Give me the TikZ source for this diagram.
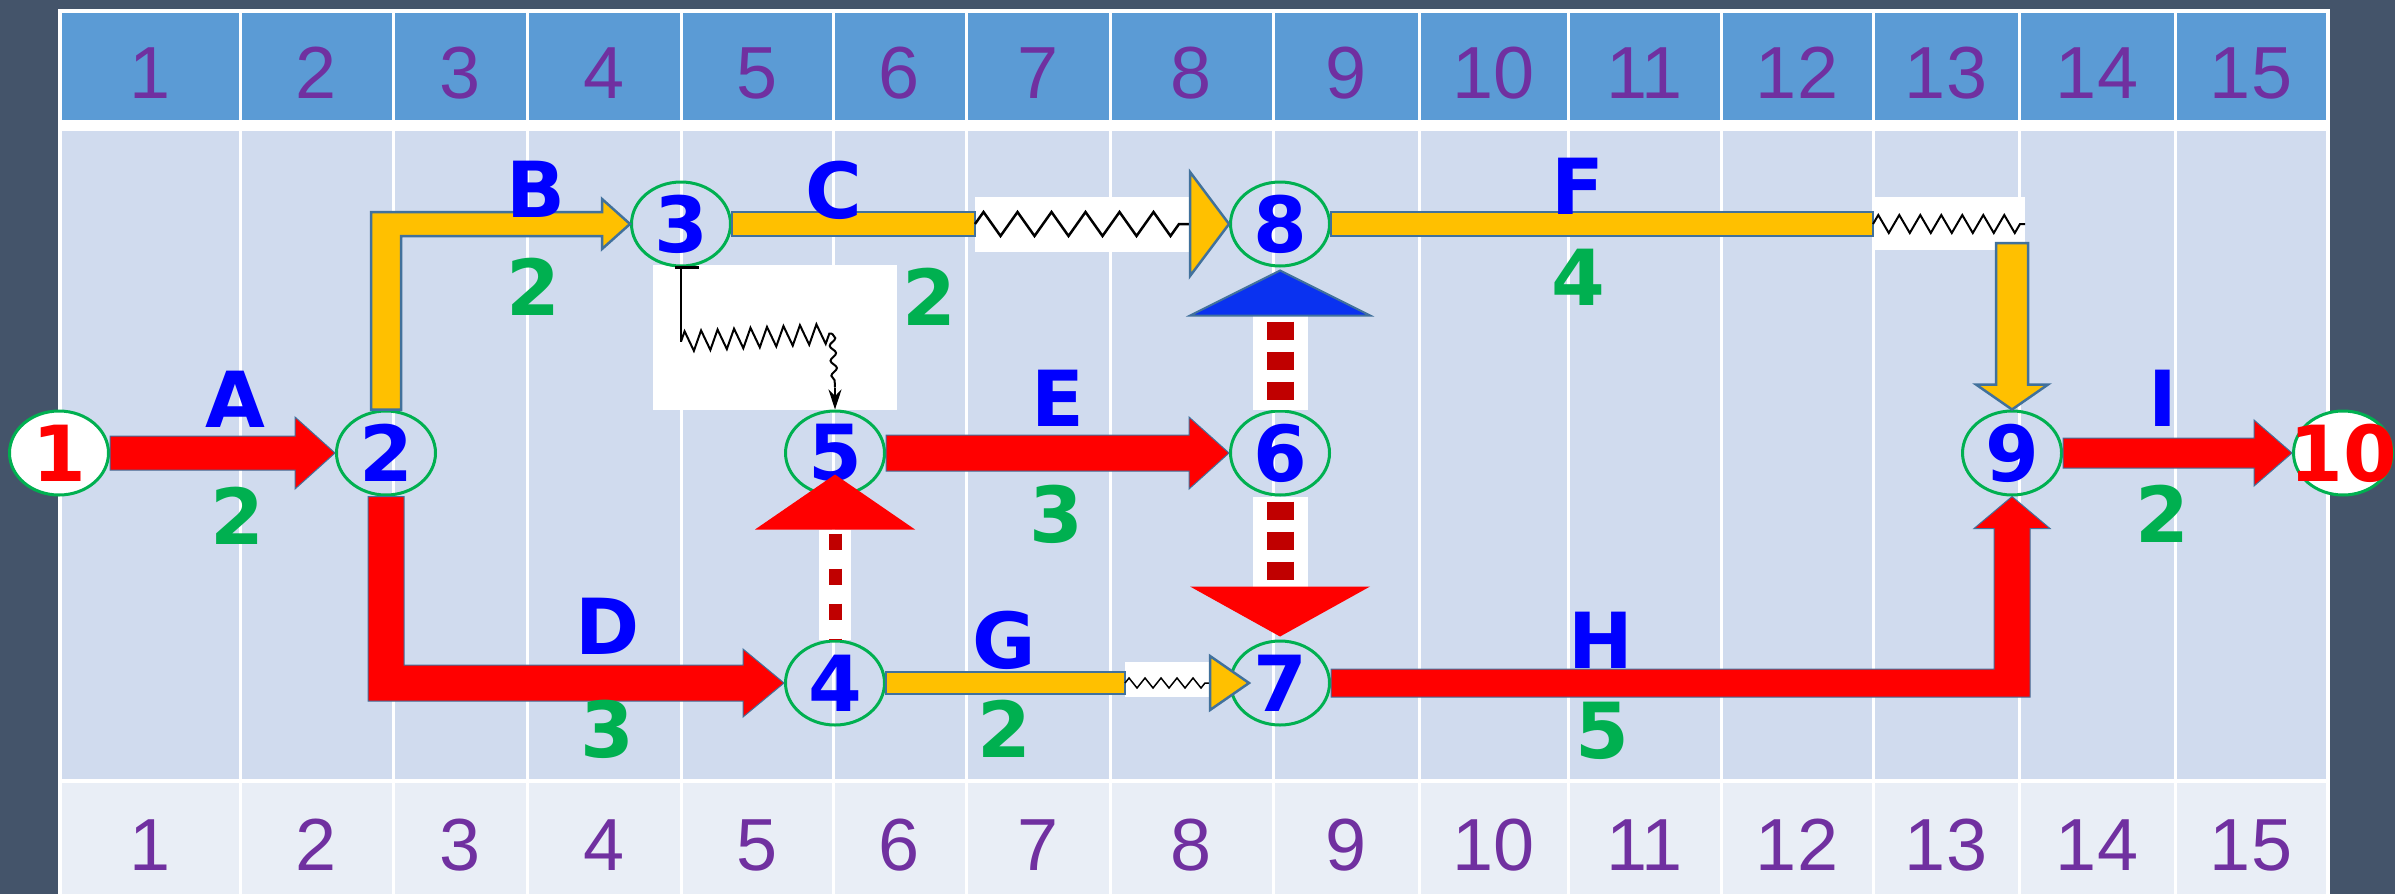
\documentclass[tikz,border=0pt]{standalone}
\usepackage{fontspec}
\setmainfont{DejaVu Sans}
\newfontfamily\axisfont{Liberation Sans}
\usetikzlibrary{calc,decorations.pathmorphing,arrows.meta,shapes.geometric}

\definecolor{bgdark}{HTML}{44546A}
\definecolor{cellhdr}{HTML}{5B9BD5}
\definecolor{cellbody}{HTML}{D0DBEE}
\definecolor{cellfoot}{HTML}{E9EEF6}
\definecolor{axnum}{HTML}{7030A0}
\definecolor{nodegreen}{HTML}{00B050}
\definecolor{lblblue}{HTML}{0000FF}
\definecolor{lblgreen}{HTML}{00B050}
\definecolor{critred}{HTML}{FF0000}
\definecolor{actyellow}{HTML}{FFC000}
\definecolor{outl}{HTML}{41719C}
\definecolor{dumred}{HTML}{C00000}
\definecolor{dumblue}{HTML}{0A32F0}

\newcommand\harrow[6]{%
  \filldraw[#6] ($(#1)+(0,-#3)$) -- ($(#2)+(-#4,-#3)$) -- ($(#2)+(-#4,-#5)$) -- (#2)
   -- ($(#2)+(-#4,#5)$) -- ($(#2)+(-#4,#3)$) -- ($(#1)+(0,#3)$) -- cycle;}

\begin{document}
\begin{tikzpicture}[x=0.1mm,y=-0.1mm,
  ev/.style={ellipse, draw=nodegreen, line width=0.3mm, minimum width=9.9mm,
    minimum height=8.4mm, inner sep=0pt, text=lblblue,
    font=\bfseries\fontsize{22}{22}\selectfont},
  endev/.style={ev, fill=white, text=critred},
  lbl/.style={text=lblblue, font=\bfseries\fontsize{22}{22}\selectfont, inner sep=0pt},
  dur/.style={text=lblgreen, font=\bfseries\fontsize{22}{22}\selectfont, inner sep=0pt},
  axlbl/.style={text=axnum, font=\axisfont\fontsize{21}{21}\selectfont, inner sep=0pt},
  redarr/.style={fill=critred, draw=outl, line width=0.1mm, line join=miter},
  yelarr/.style={fill=actyellow, draw=outl, line width=0.25mm, line join=miter},
  zzline/.style={draw=black, line width=0.2mm, decorate},
  zzbox/.style={fill=white},
]
\fill[bgdark] (0,0) rectangle (2395,894);
\useasboundingbox (0,0) rectangle (2395,894);
\fill[white] (58,9) rectangle (2330,894);

\foreach \a/\b [count=\i] in {60/240,240/393,393/527,527/681,681/833,833/966,966/1110,1110/1273,1273/1419,1419/1568,1568/1721,1721/1873,1873/2019,2019/2175,2175/2327} {
  \fill[cellhdr] (\a+1.5,13) rectangle (\b-1.5,120);
  \fill[cellbody] (\a+1.5,131) rectangle (\b-1.5,779);
  \fill[cellfoot] (\a+1.5,783) rectangle (\b-1.5,894);
  \node[axlbl] (h\i) at ({(\a+\b)/2},73) {\i};
  \node[axlbl] (f\i) at ({(\a+\b)/2},845) {\i};
}

% white boxes behind dummy zigzags
\fill[zzbox] (975,197) rectangle (1190,252);
\fill[zzbox] (1873,197) rectangle (2025,250);
\fill[zzbox] (1125,662) rectangle (1211,697);
\fill[zzbox] (653,265) rectangle (897,410);

% events
\node[endev] (n1) at (59,453) {1};
\node[ev] (n2) at (386,453) {2};
\node[ev] (n3) at (681,224) {3};
\node[ev] (n4) at (835,683) {4};
\node[ev] (n5) at (835,453) {5};
\node[ev] (n6) at (1280,453) {6};
\node[ev] (n7) at (1280,683) {7};
\node[ev] (n8) at (1280,224) {8};
\node[ev] (n9) at (2012,453) {9};
\node[endev] (n10) at (2343,453) {\makebox[0pt]{10}};

\coordinate (cz1) at (975,224);
\coordinate (cz2) at (1190,224);
\coordinate (fz1) at (1873,224);
\coordinate (fz2) at (2025,224);
\coordinate (gz1) at (1125,683);
\coordinate (gz2) at (1210,683);

% A
\harrow{n1.east}{n2.west}{17}{40}{36}{redarr}
% B
\filldraw[yelarr] ($(n2.north)+(-15,0)$) -- ($(n2.north |- n3.west)+(-15,-12)$)
  -- ($(n3.west)+(-28,-12)$) -- ($(n3.west)+(-28,-25)$) -- (n3.west)
  -- ($(n3.west)+(-28,25)$) -- ($(n3.west)+(-28,12)$)
  -- ($(n2.north |- n3.west)+(15,12)$) -- ($(n2.north)+(15,0)$) -- cycle;
% C
\filldraw[yelarr] ($(n3.east)+(0,-12)$) rectangle ($(cz1)+(0,12)$);
\draw[zzline, line width=0.25mm, decoration={zigzag, segment length=3.4mm, amplitude=1.2mm}] (cz1) -- (cz2);
\filldraw[yelarr] ($(cz2)+(0,-52)$) -- (n8.west) -- ($(cz2)+(0,52)$) -- cycle;
% D
\filldraw[redarr] ($(n2.south)+(-18,0)$) -- ($(n2.south |- n4.west)+(-18,18)$)
  -- ($(n4.west)+(-41,18)$) -- ($(n4.west)+(-41,34)$) -- (n4.west)
  -- ($(n4.west)+(-41,-34)$) -- ($(n4.west)+(-41,-18)$)
  -- ($(n2.south |- n4.west)+(18,-18)$) -- ($(n2.south)+(18,0)$) -- cycle;
% E
\harrow{n5.east}{n6.west}{18}{40}{36}{redarr}
% F
\filldraw[yelarr] ($(n8.east)+(0,-12)$) rectangle ($(fz1)+(0,12)$);
\draw[zzline, decoration={zigzag, segment length=2.1mm, amplitude=0.9mm}] (fz1) -- (fz2);
\coordinate (fd) at ($(n9.north |- fz2)+(0,19)$);
\filldraw[yelarr] ($(fd)+(-16,0)$) -- ($(n9.north)+(-16,-25)$) -- ($(n9.north)+(-36,-25)$)
  -- (n9.north) -- ($(n9.north)+(36,-25)$) -- ($(n9.north)+(16,-25)$) -- ($(fd)+(16,0)$) -- cycle;
% G
\filldraw[yelarr] ($(n4.east)+(0,-11)$) rectangle ($(gz1)+(0,11)$);
\draw[zzline, line width=0.15mm, decoration={zigzag, segment length=1.6mm, amplitude=0.5mm}] (gz1) -- (gz2);
\filldraw[yelarr] ($(gz2)+(0,-27)$) -- ($(n7.west)+(20,0)$) -- ($(gz2)+(0,27)$) -- cycle;
% H
\filldraw[redarr] ($(n7.east)+(0,-14)$) -- ($(n9.south |- n7.east)+(-18,-14)$)
  -- ($(n9.south)+(-18,32)$) -- ($(n9.south)+(-38,32)$) -- (n9.south)
  -- ($(n9.south)+(38,32)$) -- ($(n9.south)+(18,32)$)
  -- ($(n9.south |- n7.east)+(18,14)$) -- ($(n7.east)+(0,14)$) -- cycle;
% I
\harrow{n9.east}{n10.west}{15}{38}{33}{redarr}

% dummy 3 -> 5
\coordinate (z35a) at ($(n3.south)+(0,74)$);
\coordinate (z35b) at ($(n5.north)+(-3,-76)$);
\coordinate (z35c) at ($(n5.north)+(0,-22)$);
\draw[line width=0.35mm] ($(n3.south)+(-6,0)$) -- ($(n3.south)+(18,0)$);
\draw[line width=0.2mm] (n3.south) -- (z35a);
\draw[zzline, decoration={zigzag, segment length=1.65mm, amplitude=1mm}] (z35a) -- (z35b);
\draw[zzline, decoration={snake, segment length=1.5mm, amplitude=0.3mm}] (z35b) -- (z35c);
\draw[line width=0.2mm, -{Stealth[length=2mm,width=1.3mm]}] (z35c) -- (n5.north);

% dummy 4 -> 5
\coordinate (b45) at ($(n5.south)+(0,33)$);
\draw[white, line width=3.2mm] (n4.north) -- (b45);
\draw[dumred, line width=1.3mm, dash pattern=on 1.6mm off 1.9mm] ($(b45)+(0,4)$) -- (n4.north);
\fill[critred] ($(b45)+(-80,0)$) -- ($(n5.south)+(0,-22)$) -- ($(b45)+(80,0)$) -- cycle;

% dummy 6 -> 8
\coordinate (b68) at ($(n8.south)+(0,48)$);
\draw[white, line width=5.5mm] (n6.north) -- (b68);
\draw[dumred, line width=2.7mm, dash pattern=on 1.8mm off 1.2mm] ($(b68)+(0,6)$) -- (n6.north);
\filldraw[fill=dumblue, draw=outl, line width=0.2mm] ($(b68)+(-90,0)$) -- ($(n8.south)+(0,3)$) -- ($(b68)+(90,0)$) -- cycle;

% dummy 6 -> 7
\coordinate (b67) at ($(n7.north)+(0,-53)$);
\draw[white, line width=5.5mm] (n6.south) -- (b67);
\draw[dumred, line width=2.7mm, dash pattern=on 1.8mm off 1.2mm] ($(n6.south)+(0,5)$) -- (b67);
\fill[critred] ($(b67)+(-90,0)$) -- ($(n7.north)+(0,-3)$) -- ($(b67)+(90,0)$) -- cycle;

% labels
\node[lbl] (lA) at (235,399) {A};  \node[dur] (dA) at (237,516) {2};
\node[lbl] (lB) at (536,189) {B};  \node[dur] (dB) at (533,287) {2};
\node[lbl] (lC) at (834,190) {C};  \node[dur] (dC) at (929,297) {2};
\node[lbl] (lD) at (608,626) {D};  \node[dur] (dD) at (607,729) {3};
\node[lbl] (lE) at (1058,398) {E}; \node[dur] (dE) at (1056,514) {3};
\node[lbl] (lF) at (1578,186) {F}; \node[dur] (dF) at (1578,277) {4};
\node[lbl] (lG) at (1004,640) {G}; \node[dur] (dG) at (1004,729) {2};
\node[lbl] (lH) at (1601,640) {H}; \node[dur] (dH) at (1602,731) {5};
\node[lbl] (lI) at (2163,398) {I}; \node[dur] (dI) at (2162,514) {2};
\end{tikzpicture}
\end{document}
